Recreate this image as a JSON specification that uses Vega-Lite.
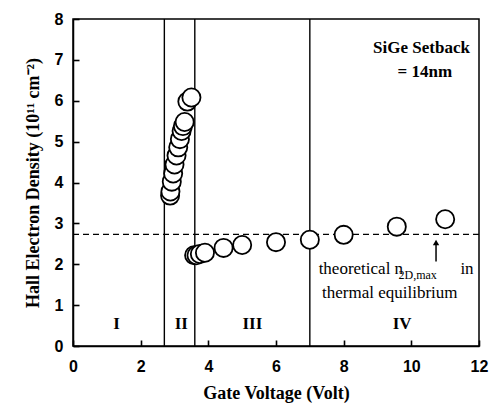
{
  "$schema": "https://vega.github.io/schema/vega-lite/v6.json",
  "width": 406,
  "height": 327,
  "autosize": "none",
  "padding": {"left": 73, "top": 19, "right": 15, "bottom": 64},
  "background": "white",
  "config": {
    "view": {"stroke": "black", "strokeWidth": 1.5}
  },
  "layer": [
    {
      "data": {"values": [{"v": 2.7}, {"v": 3.6}, {"v": 7.0}]},
      "mark": {"type": "rule", "color": "black", "strokeWidth": 1.4},
      "encoding": {
        "x": {"field": "v", "type": "quantitative", "scale": {"domain": [0, 12], "nice": false}}
      }
    },
    {
      "data": {"values": [{"d": 2.73}]},
      "mark": {"type": "rule", "color": "black", "strokeWidth": 1.3, "strokeDash": [6, 4]},
      "encoding": {
        "y": {"field": "d", "type": "quantitative", "scale": {"domain": [0, 8], "nice": false}}
      }
    },
    {
      "data": {"values": [
        {"vg": 2.87, "n": 3.68}, {"vg": 2.88, "n": 3.78}, {"vg": 2.92, "n": 4.02},
        {"vg": 2.96, "n": 4.22}, {"vg": 3.0, "n": 4.44}, {"vg": 3.06, "n": 4.66},
        {"vg": 3.11, "n": 4.86}, {"vg": 3.16, "n": 5.06}, {"vg": 3.21, "n": 5.26},
        {"vg": 3.25, "n": 5.38}, {"vg": 3.3, "n": 5.48}, {"vg": 3.38, "n": 5.98},
        {"vg": 3.5, "n": 6.08},
        {"vg": 3.58, "n": 2.22}, {"vg": 3.65, "n": 2.22}, {"vg": 3.75, "n": 2.25},
        {"vg": 3.9, "n": 2.28}, {"vg": 4.45, "n": 2.4}, {"vg": 5.0, "n": 2.47},
        {"vg": 6.0, "n": 2.54}, {"vg": 7.0, "n": 2.6}, {"vg": 8.0, "n": 2.72},
        {"vg": 9.57, "n": 2.92}, {"vg": 11.0, "n": 3.1}
      ]},
      "mark": {"type": "point", "shape": "circle", "filled": false, "fill": "white", "fillOpacity": 1, "stroke": "black", "strokeWidth": 1.8, "size": 330, "opacity": 1},
      "encoding": {
        "x": {"field": "vg", "type": "quantitative", "scale": {"domain": [0, 12], "nice": false},
          "axis": {"orient": "bottom", "zindex": 1, "values": [0,1,2,3,4,5,6,7,8,9,10,11,12], "labelExpr": "datum.value % 2 == 0 ? format(datum.value, 'd') : ''", "labelFlush": false, "labelOverlap": false, "title": "Gate Voltage (Volt)", "ticks": true, "tickSize": -6, "tickColor": "black", "tickWidth": 1.6, "labelPadding": 18, "titlePadding": 10, "grid": false, "domainColor": "black", "domainWidth": 1.5, "labelColor": "black", "titleColor": "black", "labelFont": "Liberation Sans", "labelFontWeight": "bold", "labelFontSize": 16, "titleFont": "Liberation Serif", "titleFontWeight": "bold", "titleFontSize": 18}},
        "y": {"field": "n", "type": "quantitative", "scale": {"domain": [0, 8], "nice": false},
          "axis": {"orient": "left", "zindex": 1, "values": [0,0.5,1,1.5,2,2.5,3,3.5,4,4.5,5,5.5,6,6.5,7,7.5,8], "labelExpr": "datum.value % 1 == 0 ? format(datum.value, 'd') : ''", "labelFlush": false, "labelOverlap": false, "title": "Hall Electron Density (10¹¹ cm⁻²)", "ticks": true, "tickSize": -6, "tickColor": "black", "tickWidth": 1.6, "labelPadding": 16, "titlePadding": 12, "grid": false, "domainColor": "black", "domainWidth": 1.5, "labelColor": "black", "titleColor": "black", "labelFont": "Liberation Sans", "labelFontWeight": "bold", "labelFontSize": 16, "titleFont": "Liberation Serif", "titleFontWeight": "bold", "titleFontSize": 18}}
      }
    },
    {
      "data": {"values": [
        {"t": "I", "x": 1.29, "y": 0.55}, {"t": "II", "x": 3.2, "y": 0.55},
        {"t": "III", "x": 5.3, "y": 0.55}, {"t": "IV", "x": 9.73, "y": 0.55}
      ]},
      "mark": {"type": "text", "font": "Liberation Serif", "fontWeight": "bold", "fontSize": 17, "baseline": "middle", "align": "center", "color": "black"},
      "encoding": {
        "x": {"field": "x", "type": "quantitative"},
        "y": {"field": "y", "type": "quantitative"},
        "text": {"field": "t"}
      }
    },
    {
      "data": {"values": [
        {"t": "SiGe Setback", "x": 10.3, "y": 7.16}, {"t": "= 14nm", "x": 10.4, "y": 6.58}
      ]},
      "mark": {"type": "text", "font": "Liberation Serif", "fontWeight": "bold", "fontSize": 17, "baseline": "alphabetic", "align": "center", "color": "black"},
      "encoding": {
        "x": {"field": "x", "type": "quantitative"},
        "y": {"field": "y", "type": "quantitative"},
        "text": {"field": "t"}
      }
    },
    {
      "data": {"values": [
        {"t": "theoretical n", "x": 7.26, "y": 1.88}, {"t": "in", "x": 11.45, "y": 1.88},
        {"t": "thermal equilibrium", "x": 7.36, "y": 1.3}
      ]},
      "mark": {"type": "text", "font": "Liberation Serif", "fontSize": 17, "baseline": "middle", "align": "left", "color": "black"},
      "encoding": {
        "x": {"field": "x", "type": "quantitative"},
        "y": {"field": "y", "type": "quantitative"},
        "text": {"field": "t"}
      }
    },
    {
      "data": {"values": [{"t": "2D,max", "x": 9.62, "y": 1.74}]},
      "mark": {"type": "text", "font": "Liberation Serif", "fontSize": 12, "baseline": "middle", "align": "left", "color": "black"},
      "encoding": {
        "x": {"field": "x", "type": "quantitative"},
        "y": {"field": "y", "type": "quantitative"},
        "text": {"field": "t"}
      }
    },
    {
      "data": {"values": [{"x": 10.73, "y1": 2.07, "y2": 2.5}]},
      "mark": {"type": "rule", "color": "black", "strokeWidth": 1.5},
      "encoding": {
        "x": {"field": "x", "type": "quantitative"},
        "y": {"field": "y1", "type": "quantitative"},
        "y2": {"field": "y2"}
      }
    },
    {
      "data": {"values": [{"x": 10.73, "y": 2.53}]},
      "mark": {"type": "point", "shape": "triangle-up", "filled": true, "color": "black", "size": 40, "opacity": 1},
      "encoding": {
        "x": {"field": "x", "type": "quantitative"},
        "y": {"field": "y", "type": "quantitative"}
      }
    }
  ]
}
